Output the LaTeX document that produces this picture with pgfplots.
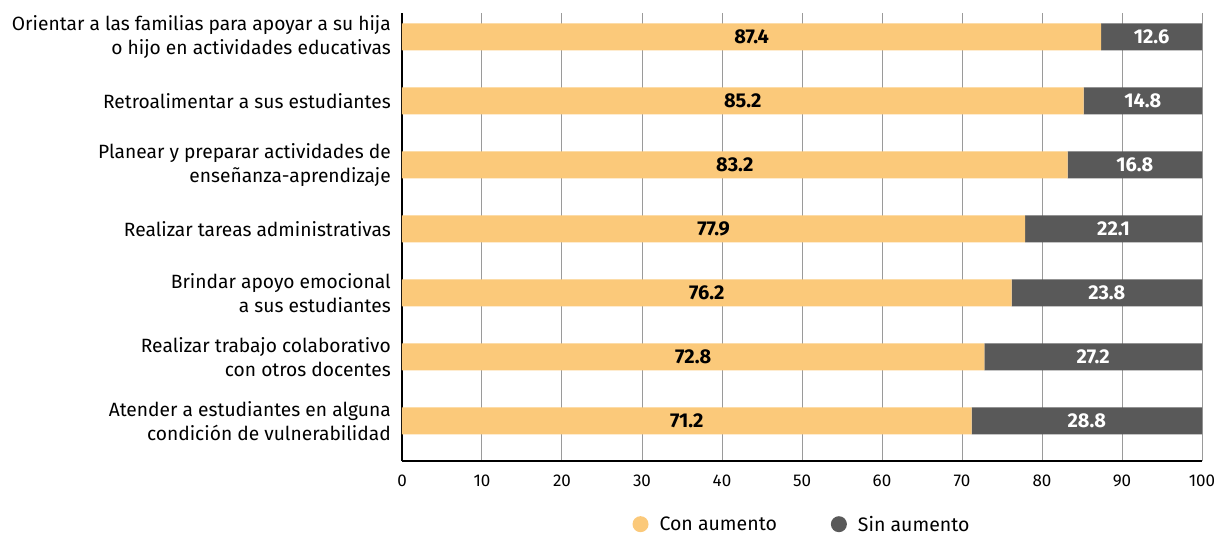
\documentclass[border=0pt]{standalone}
\usepackage{fontspec}
\setmainfont{Fira Sans}
\usepackage{pgfplots}
\pgfplotsset{compat=1.18}
\usetikzlibrary{calc}
\definecolor{conA}{HTML}{FBC97A}
\definecolor{sinA}{HTML}{595959}
\definecolor{gridc}{HTML}{9A9A9A}
\begin{document}
\begin{tikzpicture}
\begin{axis}[
  scale only axis,
  width=800pt, height=448pt,
  xbar stacked,
  bar width=27pt,
  xmin=0, xmax=100,
  ymin=-0.625, ymax=6.375,
  xtick={0,10,...,100},
  ytick={0,...,6},
  yticklabels={
    {Atender a estudiantes en alguna\\condición de vulnerabilidad},
    {Realizar trabajo colaborativo\\con otros docentes},
    {Brindar apoyo emocional\\a sus estudiantes},
    {Realizar tareas administrativas},
    {Planear y preparar actividades de\\enseñanza-aprendizaje},
    {Retroalimentar a sus estudiantes},
    {Orientar a las familias para apoyar a su hija\\o hijo en actividades educativas}},
  yticklabel style={align=right, font=\fontsize{19.2}{24}\selectfont, inner sep=0pt, xshift=-11pt},
  xticklabel style={font=\fontsize{17}{18}\selectfont, yshift=-10pt},
  /pgf/number format/assume math mode=true,
  major tick length=0pt,
  xmajorgrids=true,
  grid style={gridc, line width=1pt},
  axis x line*=bottom,
  axis y line*=left,
  axis line style={black, line width=1.2pt, -},
  nodes near coords={\pgfmathprintnumber[fixed,fixed zerofill,precision=1]{\pgfplotspointmeta}},
  point meta=rawx,
  nodes near coords style={font=\fontsize{20}{22}\selectfont\bfseries},
  legend style={at={(0.5,-0.113)}, anchor=north, draw=none, legend columns=2,
    font=\fontsize{19.5}{22}\selectfont,
    /tikz/every odd column/.append style={column sep=9pt},
    /tikz/every even column/.append style={column sep=52pt}},
  legend image code/.code={\fill[#1] (0pt,0) circle (8pt);},
]
\addplot[fill=conA, draw=none, nodes near coords style={text=black}] coordinates {
  (71.2,0) (72.8,1) (76.2,2) (77.9,3) (83.2,4) (85.2,5) (87.4,6)};
\addplot[fill=sinA, draw=none, nodes near coords style={text=white}] coordinates {
  (28.8,0) (27.2,1) (23.8,2) (22.1,3) (16.8,4) (14.8,5) (12.6,6)};
\legend{Con aumento, Sin aumento}
\end{axis}
\pgfresetboundingbox
\path[use as bounding box] ($(current axis.south west)+(-402pt,-76pt)$) rectangle ($(current axis.north east)+(12pt,13pt)$);
\end{tikzpicture}
\end{document}
